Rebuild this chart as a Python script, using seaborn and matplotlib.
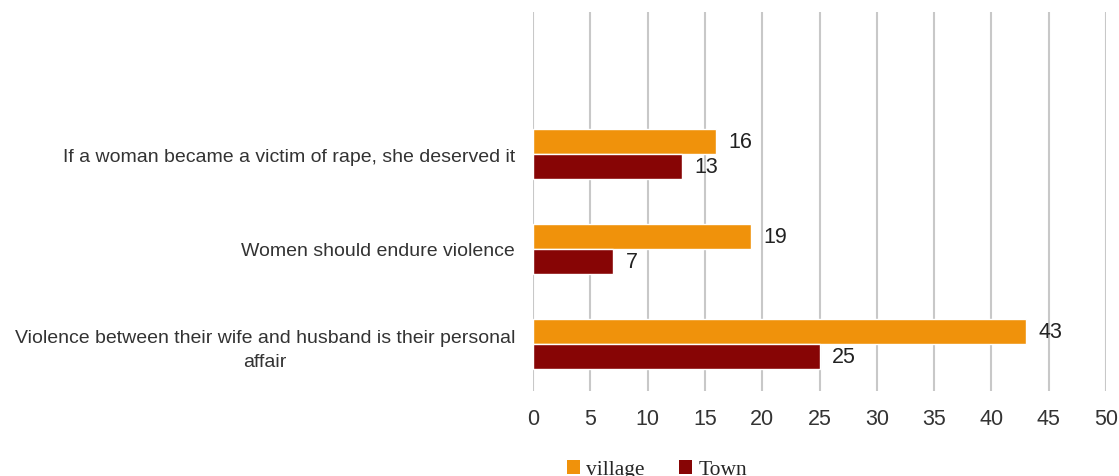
import matplotlib
matplotlib.use("Agg")
import matplotlib.pyplot as plt
import seaborn as sns
import pandas as pd
from matplotlib.patches import Patch

categories = [
    "If a woman became a victim of rape, she deserved it",
    "Women should endure violence",
    "Violence between their wife and husband is their personal\naffair",
]
series_names = ["village", "Town"]
village = [16, 19, 43]
town = [13, 7, 25]
x_ticks = [0, 5, 10, 15, 20, 25, 30, 35, 40, 45, 50]
colors = ["#F0920B", "#870505"]

df = pd.DataFrame({
    "category": categories * 2,
    "value": village + town,
    "series": [series_names[0]] * len(categories) + [series_names[1]] * len(categories),
})

sns.set_theme(style="white")
plt.rcParams["font.family"] = ["Liberation Sans", "DejaVu Sans"]

fig = plt.figure(figsize=(11.19, 4.77), dpi=100)
ax = fig.add_axes([533 / 1119, 1 - 392 / 477, 573 / 1119, (392 - 13) / 477])

sns.barplot(data=df, y="category", x="value", hue="series", order=categories,
            hue_order=series_names, palette=colors, orient="h", width=0.53,
            saturation=1, ax=ax, legend=False)

for cont in ax.containers:
    ax.bar_label(cont, padding=9, fontsize=15.5, color="#222222")

ax.set_xlim(0, 50)
ax.set_ylim(2.5, -1.5)
ax.set_xticks(x_ticks)
ax.set_xticklabels([str(t) for t in x_ticks], fontsize=15.5, color="#333333")
ax.tick_params(axis="x", length=0, pad=12)
ax.tick_params(axis="y", length=0, pad=13, labelsize=14, labelcolor="#333333")
ax.set_xlabel("")
ax.set_ylabel("")
for lbl in ax.get_yticklabels():
    lbl.set_multialignment("center")
    lbl.set_linespacing(1.55)
ax.grid(axis="x", color="#C8C8C8", linewidth=1.5)
ax.grid(axis="y", visible=False)
ax.set_axisbelow(True)
for s in ax.spines.values():
    s.set_visible(False)

handles = [Patch(facecolor=c, edgecolor="none") for c in colors]
fig.legend(handles, series_names, loc="upper left", bbox_to_anchor=(567 / 1119, 1 - 461 / 477),
           ncol=2, frameon=False, handlelength=0.6, handleheight=0.6, handletextpad=0.3,
           columnspacing=1.6, prop={"family": "Liberation Serif", "size": 15.5},
           borderaxespad=0, borderpad=0)

fig.savefig("out.png", dpi=100)
